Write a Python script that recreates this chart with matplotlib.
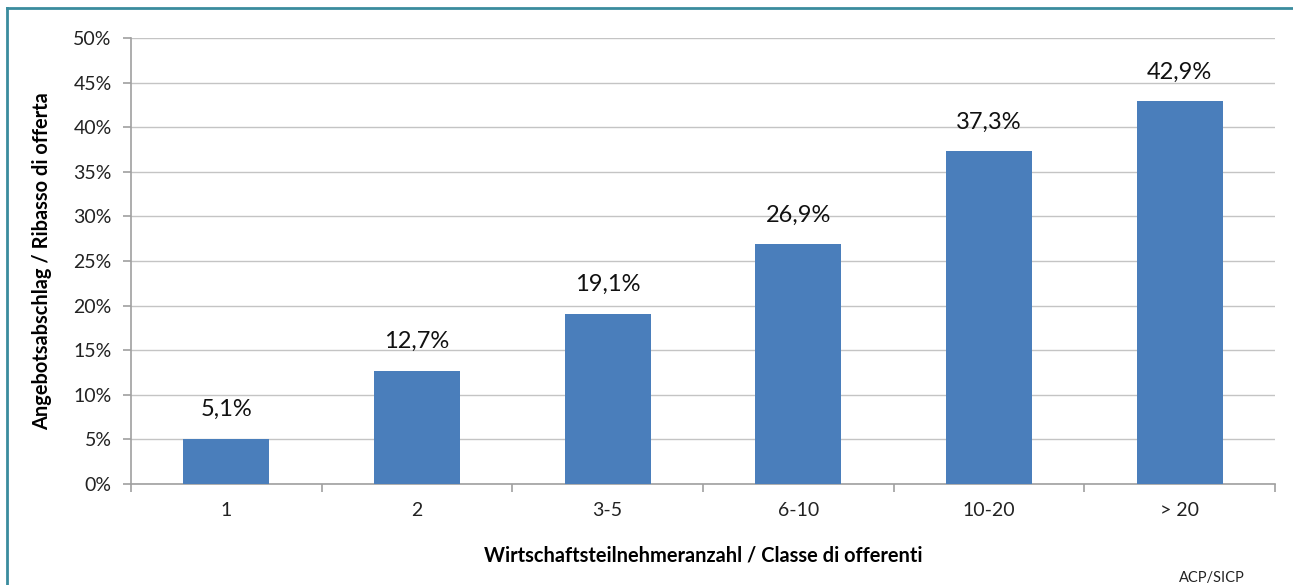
import matplotlib
matplotlib.use("Agg")
import matplotlib.pyplot as plt
from matplotlib.lines import Line2D
import numpy as np

categories = ["1", "2", "3-5", "6-10", "10-20", "> 20"]
values = [5.1, 12.7, 19.1, 26.9, 37.3, 42.9]
value_labels = ["5,1%", "12,7%", "19,1%", "26,9%", "37,3%", "42,9%"]
yticks = [0, 5, 10, 15, 20, 25, 30, 35, 40, 45, 50]
ytick_labels = [f"{t}%" for t in yticks]
ylabel = "Angebotsabschlag / Ribasso di offerta"
xlabel = "Wirtschaftsteilnehmeranzahl / Classe di offerenti"
source = "ACP/SICP"

plt.rcParams['font.family'] = ['Lato', 'DejaVu Sans']

fig = plt.figure(figsize=(12.93, 5.85), dpi=100)
ax = fig.add_axes([131/1293, 101/585, (1275-131)/1293, (484-38)/585])

x = np.arange(len(categories))
bars = ax.bar(x, values, width=0.45, color="#4A7EBB", zorder=3)

ax.set_xlim(-0.5, len(categories) - 0.5)
ax.set_ylim(0, 50)
ax.set_yticks(yticks)
ax.set_yticklabels(ytick_labels, fontsize=14, color="#222222")
ax.yaxis.grid(True, color="#C4C4C4", linewidth=1.0, zorder=0)

ax.set_xticks(x)
ax.set_xticklabels(categories, fontsize=14, color="#222222")
ax.set_xticks(np.arange(-0.5, len(categories)), minor=True)
ax.tick_params(axis='x', which='major', length=0, pad=13)
ax.tick_params(axis='x', which='minor', length=6, color="#A0A0A0", width=1.2, direction='out')
ax.tick_params(axis='y', length=6, color="#A0A0A0", width=1.2, direction='out', pad=8)

for s in ['top', 'right']:
    ax.spines[s].set_visible(False)
for s in ['left', 'bottom']:
    ax.spines[s].set_color("#A0A0A0")
    ax.spines[s].set_linewidth(1.2)

for xi, v, lab in zip(x, values, value_labels):
    ax.annotate(lab, (xi, v), xytext=(0, 29), textcoords='offset pixels',
                ha='center', va='center', fontsize=17, color="#111111")

ax.set_ylabel(ylabel, fontsize=14.4, fontweight='bold')
ax.yaxis.set_label_coords(-79/1144, 0.5)
ax.set_xlabel(xlabel, fontsize=14.4, fontweight='bold')
ax.xaxis.set_label_coords(0.5, -62/446)

fig.text(1212/1293, 1 - 578/585, source, fontsize=10.5, ha='center', va='center', color="#222222")

# partial figure border (top and left visible)
fig.add_artist(Line2D([7/1293, 1.0], [1 - 8/585, 1 - 8/585], transform=fig.transFigure,
                      color="#3A8C9E", linewidth=2))
fig.add_artist(Line2D([7/1293, 7/1293], [1 - 8/585, 0.0], transform=fig.transFigure,
                      color="#3A8C9E", linewidth=2))

fig.savefig("out.png", dpi=100)
